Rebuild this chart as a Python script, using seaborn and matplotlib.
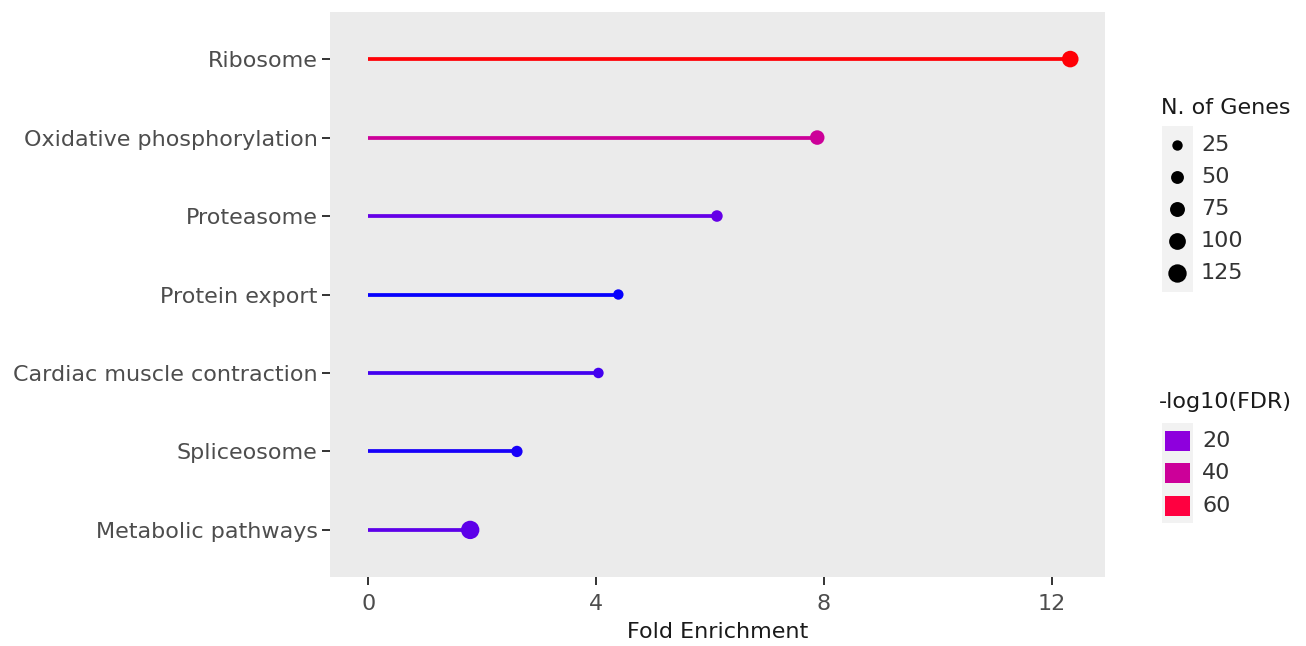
import numpy as np
import pandas as pd
import matplotlib
matplotlib.use("Agg")
import matplotlib.pyplot as plt
import seaborn as sns
from matplotlib.colors import LinearSegmentedColormap, Normalize
from matplotlib.patches import Rectangle

# ---- data ----
pathways = ["Ribosome", "Oxidative phosphorylation", "Proteasome", "Protein export",
            "Cardiac muscle contraction", "Spliceosome", "Metabolic pathways"]
fold_enrichment = [12.32, 7.88, 6.12, 4.39, 4.04, 2.61, 1.79]
n_genes = [98, 70, 36, 12, 26, 34, 145]
neg_log10_fdr = [67, 40, 15, 4, 11, 6, 14]
size_breaks = [25, 50, 75, 100, 125]
color_breaks = [20, 40, 60]
x_ticks = [0, 4, 8, 12]

df = pd.DataFrame({"pathway": pathways, "fe": fold_enrichment,
                   "genes": n_genes, "fdr": neg_log10_fdr})

sns.set_theme(style="white")
plt.rcParams["font.family"] = ["DejaVu Sans"]

cmap = LinearSegmentedColormap.from_list(
    "bluered", [(0.0, "#0000ff"), (0.26, "#8f00dd"), (0.57, "#cc0099"),
                (0.88, "#ff0040"), (1.0, "#ff0000")])
norm = Normalize(vmin=3, vmax=68)
size_norm = (25, 125)
size_range = (56, 175)
FS = 16

fig = plt.figure(figsize=(13.06, 6.46), dpi=100)
W, H = 1306, 646
ax = fig.add_axes([330 / W, 1 - 577 / H, (1105 - 330) / W, (577 - 12) / H])
ax.set_facecolor("#ebebeb")

ypos = np.arange(len(pathways))
ax.hlines(ypos, 0, df["fe"], colors=[cmap(norm(v)) for v in df["fdr"]],
          linewidth=2.7, zorder=2)
sns.scatterplot(data=df, x="fe", y="pathway", hue="fdr", palette=cmap, hue_norm=norm,
                size="genes", sizes=size_range, size_norm=size_norm,
                legend=False, linewidth=0, ax=ax, zorder=3)

ax.set_ylim(len(pathways) - 1 + 0.6, -0.6)
ax.set_xlim(-0.67, 12.93)
ax.set_xticks(x_ticks)
ax.set_xticklabels([str(t) for t in x_ticks])
ax.set_xlabel("Fold Enrichment", fontsize=FS, color="#1a1a1a", labelpad=6)
ax.set_ylabel("")
ax.tick_params(axis="both", length=6, width=1.4, color="#333333", labelsize=FS,
               labelcolor="#4d4d4d", left=True, bottom=True)
ax.tick_params(axis="x", pad=6)
ax.tick_params(axis="y", pad=3)
for s in ax.spines.values():
    s.set_visible(False)
ax.grid(False)

# ---- legends (drawn in a pixel-coordinate overlay) ----
lax = fig.add_axes([0, 0, 1, 1])
lax.set_xlim(0, W)
lax.set_ylim(H, 0)
lax.axis("off")

lax.text(1161, 108, "N. of Genes", fontsize=FS, color="#1a1a1a", va="center", ha="left")
lax.add_patch(Rectangle((1162, 126), 31, 166, facecolor="#f2f2f2", edgecolor="none"))
key_y = [145, 177, 209, 241, 273]
for yy, b in zip(key_y, size_breaks):
    area = size_range[0] + (b - size_norm[0]) / (size_norm[1] - size_norm[0]) * (size_range[1] - size_range[0])
    lax.scatter([1177], [yy], s=area, color="black", linewidth=0)
    lax.text(1201, yy, str(b), fontsize=FS, color="#333333", va="center", ha="left")

lax.text(1159, 402, "-log10(FDR)", fontsize=FS, color="#1a1a1a", va="center", ha="left")
lax.add_patch(Rectangle((1162, 423), 31, 100, facecolor="#f2f2f2", edgecolor="none"))
ckey_y = [441, 473, 506]
for yy, b in zip(ckey_y, color_breaks):
    lax.add_patch(Rectangle((1165, yy - 10), 25, 20, facecolor=cmap(norm(b)), edgecolor="none"))
    lax.text(1202, yy, str(b), fontsize=FS, color="#333333", va="center", ha="left")

fig.savefig("out.png", dpi=100)
